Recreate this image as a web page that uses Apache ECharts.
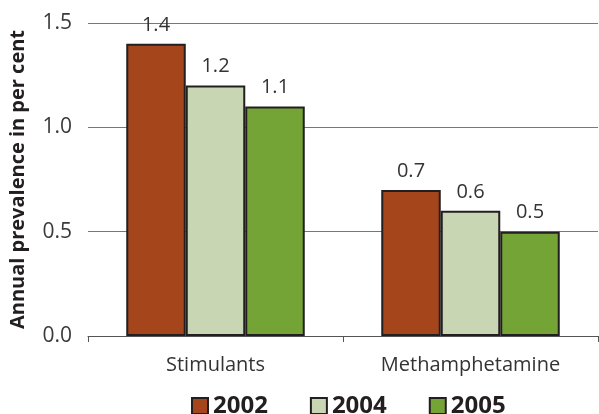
<!DOCTYPE html>
<html><head><meta charset="utf-8">
<script src="https://cdn.jsdelivr.net/npm/echarts@6/dist/echarts.min.js"></script>
<style>html,body{margin:0;padding:0;background:#fff}#c{width:599px;height:414px}</style>
</head><body><div id="c"></div>
<script>
const categories = ['Stimulants', 'Methamphetamine'];
const seriesNames = ['2002', '2004', '2005'];
const v2002 = [1.4, 0.7];
const v2004 = [1.2, 0.6];
const v2005 = [1.1, 0.5];
const yTicks = [0, 0.5, 1.0, 1.5];
const colors = ['#a5451c', '#c8d6b4', '#74a436'];
const values = [v2002, v2004, v2005];
const font = 'Open Sans';
const chart = echarts.init(document.getElementById('c'));
chart.setOption({
  animation: false,
  textStyle: { fontFamily: font },
  grid: { left: 87, right: 1, top: 23, bottom: 78 },
  legend: {
    top: 389, left: 186, itemGap: 42, itemWidth: 16, itemHeight: 16,
    icon: 'rect',
    textStyle: { fontSize: 24, fontWeight: 'bold', color: '#231f20', fontFamily: font },
    data: seriesNames
  },
  xAxis: {
    type: 'category', data: categories,
    axisLine: { lineStyle: { color: '#555', width: 1 } },
    axisTick: { show: true, length: 6, lineStyle: { color: '#555' } },
    axisLabel: { fontSize: 20, color: '#333', margin: 19, fontFamily: font }
  },
  yAxis: {
    type: 'value', min: yTicks[0], max: yTicks[yTicks.length - 1], interval: 0.5,
    name: 'Annual prevalence in per cent', nameLocation: 'middle', nameGap: 60,
    nameTextStyle: { fontSize: 20, fontWeight: 'bold', color: '#231f20', fontFamily: font },
    axisLine: { show: false }, axisTick: { show: false },
    axisLabel: { fontSize: 21, color: '#3a3a3a', margin: 16, formatter: v => v.toFixed(1), fontFamily: font },
    splitLine: { lineStyle: { color: '#777', width: 1 } }
  },
  series: seriesNames.map((n, i) => ({
    name: n, type: 'bar', data: values[i],
    barGap: '0%', barCategoryGap: '30%',
    itemStyle: { color: colors[i], borderColor: '#231f20', borderWidth: 2 },
    label: { show: true, position: 'top', distance: 9, fontSize: 20, color: '#333',
      formatter: p => p.value.toFixed(1), fontFamily: font }
  }))
});
</script></body></html>
